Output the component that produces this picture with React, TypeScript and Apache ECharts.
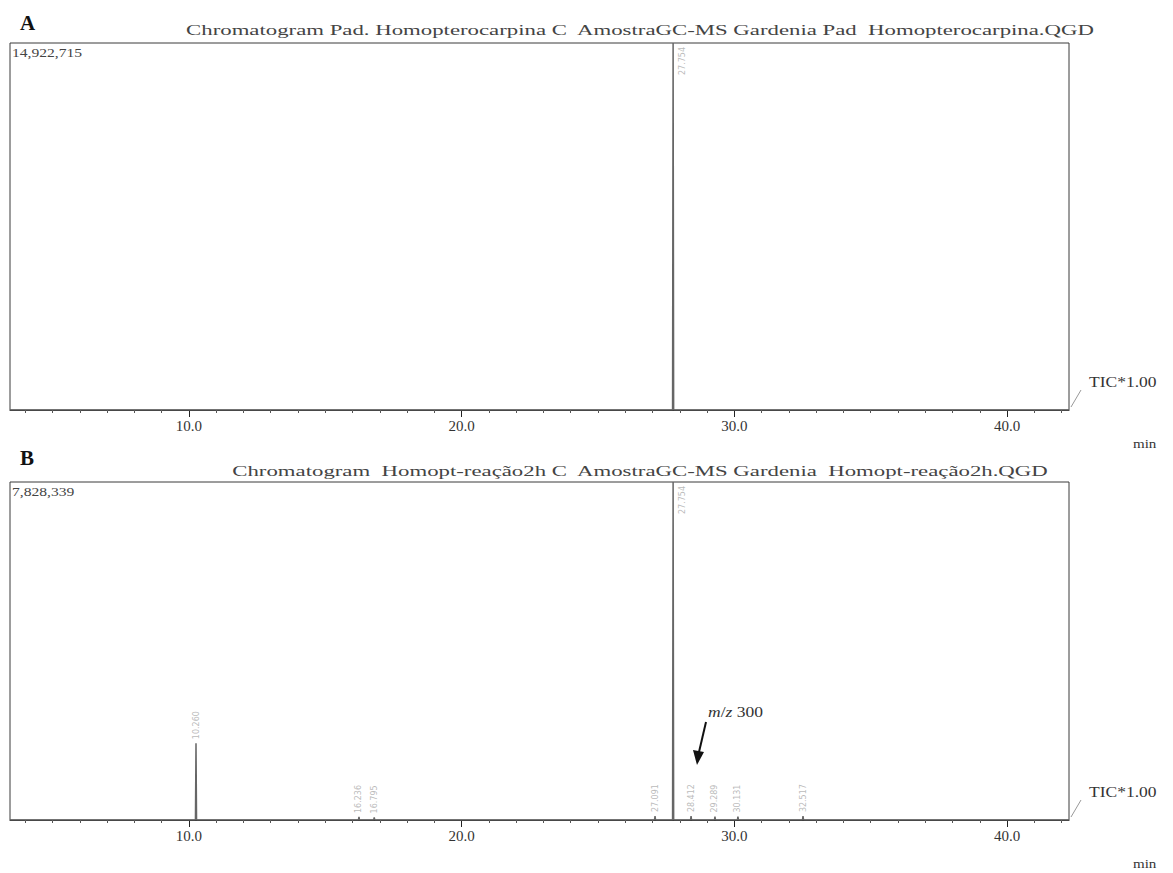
import React, { useEffect, useRef } from "react";
import * as echarts from "echarts";

const W = 1173;
const H = 873;
const SERIF = "Liberation Serif";
const STRETCH = 1.25;

// time axis (min)
const xMin = 3.44;
const xMax = 42.27;
const majorTicks = [10, 20, 30, 40];
const minorTicks = [4, 5, 6, 7, 8, 9, 11, 12, 13, 14, 15, 16, 17, 18, 19, 21, 22, 23, 24, 25, 26, 27, 28, 29, 31, 32, 33, 34, 35, 36, 37, 38, 39, 41, 42];

// Panel A
const titleA = "Chromatogram Pad. Homopterocarpina C  AmostraGC-MS Gardenia Pad  Homopterocarpina.QGD";
const maxA = 14922715;
const peakTimesA = [27.754];
const peakHeightsA = [14922715];

// Panel B
const titleB = "Chromatogram  Homopt-reação2h C  AmostraGC-MS Gardenia  Homopt-reação2h.QGD";
const maxB = 7828339;
const peakTimesB = [10.26, 16.236, 16.795, 27.091, 27.754, 28.412, 29.289, 30.131, 32.517];
const peakHeightsB = [1780000, 70000, 60000, 90000, 7828339, 90000, 80000, 80000, 90000];

// layout
const gridLeft = 10;
const gridRight = 1069;
const topA = 43;
const baseA = 410;
const topB = 482;
const baseB = 820;

function traceData(times: number[], heights: number[]) {
  const pts: number[][] = [[xMin, 0]];
  times.forEach((t, i) => {
    pts.push([t - 0.02, 0], [t, heights[i]], [t + 0.02, 0]);
  });
  pts.push([xMax, 0]);
  return pts;
}

function labelData(times: number[], heights: number[], max: number) {
  return times.map((t, i) => {
    const isMax = heights[i] >= max;
    return {
      value: [t, heights[i]],
      label: isMax
        ? { show: true, position: [9, 4], align: "right", verticalAlign: "middle", rotate: 90, formatter: t.toFixed(3) }
        : { show: true, position: [0, -4], align: "left", verticalAlign: "middle", rotate: 90, formatter: t.toFixed(3) },
    };
  });
}

export default function App() {
  const ref = useRef<HTMLDivElement>(null);
  useEffect(() => {
    if (!ref.current) return;
    const chart = echarts.init(ref.current, null, { renderer: "svg" });
    const grids = [
      { left: gridLeft, top: topA, width: gridRight - gridLeft, height: baseA - topA },
      { left: gridLeft, top: topB, width: gridRight - gridLeft, height: baseB - topB },
    ].map((g) => ({ ...g, show: true, borderColor: "#3a3a3a", borderWidth: 1, backgroundColor: "transparent" }));

    const mkX = (gi: number) => [
      {
        type: "value", gridIndex: gi, min: xMin, max: xMax, position: "bottom",
        axisLine: { show: true, onZero: false, lineStyle: { color: "#222", width: 1 } },
        axisTick: { show: true, customValues: majorTicks, length: 7, lineStyle: { color: "#222" } },
        axisLabel: { show: true, customValues: majorTicks, formatter: (v: number) => v.toFixed(1), color: "#333", fontFamily: SERIF, fontSize: 15, margin: 8 },
        splitLine: { show: false },
      },
      {
        type: "value", gridIndex: gi, min: xMin, max: xMax, position: "bottom",
        axisLine: { show: false },
        axisTick: { show: true, customValues: minorTicks, length: 3, lineStyle: { color: "#555" } },
        axisLabel: { show: false },
        splitLine: { show: false },
      },
    ];
    const mkY = (gi: number, max: number) => ({
      type: "value", gridIndex: gi, min: 0, max,
      axisLine: { show: false }, axisTick: { show: false }, axisLabel: { show: false }, splitLine: { show: false },
    });

    const peakLabelStyle = { color: "#a8a8a8", fontSize: 8, fontFamily: "DejaVu Sans" };

    const txt = (x: number, y: number, text: string, size: number, extra: any = {}, sx: number = STRETCH) => ({
      type: "text", x, y, scaleX: sx,
      style: { text, fill: "#333", font: `${size}px ${SERIF}`, textVerticalAlign: "middle", ...extra },
    });

    chart.setOption({
      animation: false,
      backgroundColor: "#fff",
      grid: grids,
      xAxis: [...mkX(0), ...mkX(1)],
      yAxis: [mkY(0, maxA), mkY(1, maxB)],
      series: [
        {
          type: "line", xAxisIndex: 0, yAxisIndex: 0, data: traceData(peakTimesA, peakHeightsA),
          showSymbol: false, lineStyle: { color: "#666", width: 1.5 }, silent: true,
        },
        {
          type: "scatter", xAxisIndex: 0, yAxisIndex: 0, symbolSize: 0,
          data: labelData(peakTimesA, peakHeightsA, maxA), label: peakLabelStyle,
        },
        {
          type: "line", xAxisIndex: 2, yAxisIndex: 1, data: traceData(peakTimesB, peakHeightsB),
          showSymbol: false, lineStyle: { color: "#666", width: 1.5 }, silent: true,
        },
        {
          type: "scatter", xAxisIndex: 2, yAxisIndex: 1, symbolSize: 0,
          data: labelData(peakTimesB, peakHeightsB, maxB), label: peakLabelStyle,
        },
      ],
      graphic: [
        { type: "text", left: 20, top: 12, style: { text: "A", fill: "#111", font: `bold 21px ${SERIF}` } },
        txt(640, 30, titleA, 15, { textAlign: "center", fill: "#444" }, 1.52),
        txt(12, topA + 9, maxA.toLocaleString("en-US"), 13, { fill: "#444" }, 1.2),
        { type: "line", shape: { x1: gridRight + 2, y1: baseA - 3, x2: gridRight + 12, y2: baseA - 20 }, style: { stroke: "#999", lineWidth: 1 } },
        txt(1089, baseA - 28, "TIC*1.00", 14),
        txt(1133, baseA + 34, "min", 12),

        { type: "text", left: 20, top: 447, style: { text: "B", fill: "#111", font: `bold 21px ${SERIF}` } },
        txt(640, 471, titleB, 15, { textAlign: "center", fill: "#444" }, 1.52),
        txt(12, topB + 9, maxB.toLocaleString("en-US"), 13, { fill: "#444" }, 1.2),
        { type: "line", shape: { x1: gridRight + 2, y1: baseB - 3, x2: gridRight + 12, y2: baseB - 20 }, style: { stroke: "#999", lineWidth: 1 } },
        txt(1089, baseB - 28, "TIC*1.00", 14),
        txt(1133, baseB + 44, "min", 12),

        {
          type: "text", x: 708, y: 712, scaleX: STRETCH,
          style: {
            text: "{i|m}/{i|z} 300", textVerticalAlign: "middle", fill: "#333", font: `14px ${SERIF}`,
            rich: { i: { fontStyle: "italic", fontFamily: SERIF, fontSize: 14, fill: "#333" } },
          },
        },
        { type: "line", shape: { x1: 706, y1: 722, x2: 699, y2: 752 }, style: { stroke: "#111", lineWidth: 2 } },
        { type: "polygon", shape: { points: [[693, 750], [704, 752], [697, 765]] }, style: { fill: "#111" } },
      ],
    });
    return () => chart.dispose();
  }, []);
  return <div ref={ref} style={{ position: "fixed", left: 0, top: 0, width: W, height: H }} />;
}
